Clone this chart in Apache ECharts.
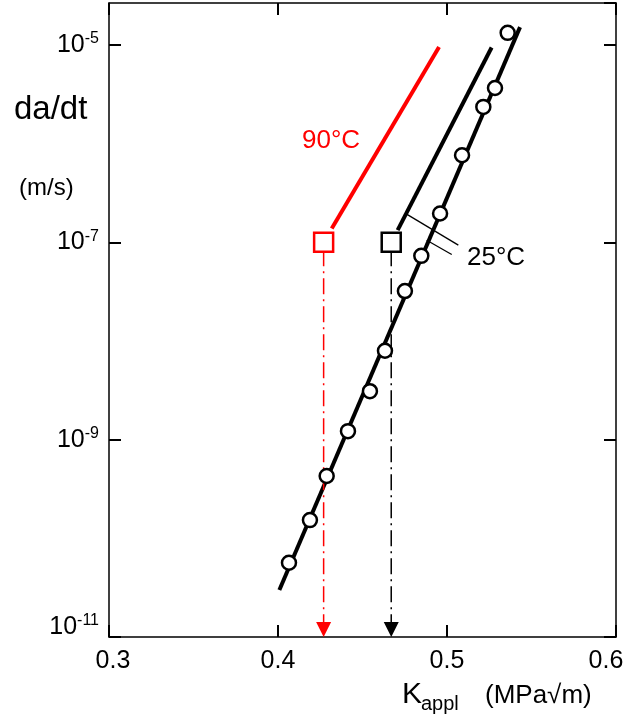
<!DOCTYPE html>
<html>
<head>
<meta charset="utf-8">
<script src="https://cdn.jsdelivr.net/npm/echarts@6/dist/echarts.min.js"></script>
<style>
  html, body { margin: 0; padding: 0; background: #fff; }
  #main { width: 628px; height: 726px; }
</style>
</head>
<body>
<div id="main"></div>
<script>
// K_appl (MPa√m) and da/dt (m/s)
var k25 = [0.4065, 0.4189, 0.4288, 0.4414, 0.4544, 0.4633, 0.4751, 0.4848, 0.4959, 0.5089, 0.5215, 0.5284, 0.5359];
var v25 = [5.66e-11, 1.53e-10, 4.28e-10, 1.22e-9, 3.10e-9, 7.96e-9, 3.21e-8, 7.30e-8, 1.96e-7, 7.64e-7, 2.36e-6, 3.67e-6, 1.33e-5];

// fitted line through the 25°C points
var kFit = [0.4008, 0.5432];
var vFit = [2.99e-11, 1.52e-5];

// upper branches starting at the threshold squares
var kUp25 = [0.4708, 0.5264];
var vUp25 = [1.33e-7, 9.44e-6];
var kUp90 = [0.4318, 0.4953];
var vUp90 = [1.38e-7, 9.57e-6];

// thresholds (squares) and drop lines down to the axis
var kTh = [0.427, 0.467];
var vTh = [1e-7, 1e-7];
var vDrop = [8.3e-8, 1.41e-11];
var thColors = ['#ff0000', '#000000'];

// leader lines for the "25°C" label
var kLead1 = [0.4761, 0.5067];
var vLead1 = [1.93e-7, 9.38e-8];
var kLead2 = [0.4880, 0.5028];
var vLead2 = [1.05e-7, 7.53e-8];

var xTicks = [0.3, 0.4, 0.5, 0.6];
var yExpTicks = [-11, -9, -7, -5];

var FONT = 'Liberation Sans, Arial, sans-serif';

function lg(v) { return Math.log10(v); }
function pairs(xs, ys) {
    return xs.map(function (x, i) { return [x, lg(ys[i])]; });
}

var myChart = echarts.init(document.getElementById('main'));

var axisLine = { show: true, lineStyle: { color: '#000', width: 1.5 } };
var tick = { show: true, inside: true, length: 12, lineStyle: { color: '#000', width: 2 } };

var supRich = {
    b: { fontSize: 25, lineHeight: 28, color: '#000', fontFamily: FONT },
    s: { fontSize: 16, lineHeight: 16, color: '#000', fontFamily: FONT, verticalAlign: 'top' },
    g: { fontSize: 10, lineHeight: 20 }
};

function lineSeries(data, color, width, type) {
    return {
        type: 'line',
        data: data,
        showSymbol: false,
        symbol: 'none',
        clip: false,
        silent: true,
        lineStyle: { color: color, width: width, type: type || 'solid', cap: 'butt', opacity: 1 },
        z: 3
    };
}

var series = [
    lineSeries(pairs(kFit, vFit), '#000', 4),
    lineSeries(pairs(kUp25, vUp25), '#000', 4),
    lineSeries(pairs(kUp90, vUp90), '#ff0000', 4),
    lineSeries(pairs(kLead1, vLead1), '#000', 1.3),
    lineSeries(pairs(kLead2, vLead2), '#000', 1.3)
];

kTh.forEach(function (k, i) {
    series.push(lineSeries([[k, lg(vDrop[0])], [k, lg(vDrop[1])]], thColors[i], 1.5, [16, 5, 2, 5]));
});

series.push({
    type: 'scatter',
    data: pairs(k25, v25),
    symbol: 'circle',
    symbolSize: 14,
    itemStyle: { color: '#fff', borderColor: '#000', borderWidth: 2.5, opacity: 1 },
    z: 5
});

series.push({
    type: 'scatter',
    data: kTh.map(function (k, i) {
        return { value: [k, lg(vTh[i])], itemStyle: { borderColor: thColors[i] } };
    }),
    symbol: 'rect',
    symbolSize: 19,
    itemStyle: { color: '#fff', borderWidth: 2.5, opacity: 1 },
    z: 6
});

series.push({
    type: 'scatter',
    data: kTh.map(function (k, i) {
        return { value: [k, -11], itemStyle: { color: thColors[i] } };
    }),
    symbol: 'triangle',
    symbolSize: [15, 15],
    symbolRotate: 180,
    symbolOffset: [0, -7.5],
    itemStyle: { opacity: 1 },
    clip: false,
    z: 6
});

option = {
    backgroundColor: '#fff',
    animation: false,
    grid: { left: 109, right: 12, top: 3, bottom: 89, outerBoundsMode: 'none' },
    xAxis: [{
        type: 'value',
        min: xTicks[0],
        max: xTicks[xTicks.length - 1],
        interval: 0.1,
        position: 'bottom',
        axisLine: axisLine,
        axisTick: tick,
        splitLine: { show: false },
        axisLabel: {
            margin: 12,
            color: '#000',
            fontSize: 25,
            fontFamily: FONT,
            formatter: function (v) {
                var t = v.toFixed(1);
                if (t === '0.3') return '{l|' + t + '}';
                if (t === '0.6') return '{r|' + t + '}';
                return t;
            },
            rich: {
                l: { fontSize: 25, fontFamily: FONT, color: '#000', padding: [0, 0, 0, 8] },
                r: { fontSize: 25, fontFamily: FONT, color: '#000', padding: [0, 20, 0, 0] }
            }
        }
    }, {
        type: 'value',
        min: xTicks[0],
        max: xTicks[xTicks.length - 1],
        interval: 0.1,
        position: 'top',
        axisLine: axisLine,
        axisTick: tick,
        splitLine: { show: false },
        axisLabel: { show: false }
    }],
    yAxis: [{
        type: 'value',
        min: yExpTicks[0],
        max: -4.574,
        interval: 2,
        position: 'left',
        axisLine: axisLine,
        axisTick: tick,
        splitLine: { show: false },
        axisLabel: {
            margin: 10,
            showMaxLabel: false,
            formatter: function (v) {
                var e = Math.round(v);
                if (e === -11) return '{b|10}{s|' + e + '}\n{g| }';
                return '{b|10}{s|' + e + '}';
            },
            rich: supRich
        }
    }, {
        type: 'value',
        min: yExpTicks[0],
        max: -4.574,
        interval: 2,
        position: 'right',
        axisLine: axisLine,
        axisTick: tick,
        splitLine: { show: false },
        axisLabel: { show: false }
    }],
    graphic: [
        { type: 'text', left: 14, top: 93, style: { text: 'da/dt', fontSize: 33, fontFamily: FONT, fill: '#000' } },
        { type: 'text', left: 19, top: 176, style: { text: '(m/s)', fontSize: 24, fontFamily: FONT, fill: '#000' } },
        { type: 'text', left: 302, top: 128, style: { text: '90°C', fontSize: 26, fontFamily: FONT, fill: '#ff0000' } },
        { type: 'text', left: 467, top: 245, style: { text: '25°C', fontSize: 26, fontFamily: FONT, fill: '#000' } },
        { type: 'text', left: 402, top: 680, style: { text: 'K', fontSize: 30, fontFamily: FONT, fill: '#000' } },
        { type: 'text', left: 421, top: 694, style: { text: 'appl', fontSize: 20, fontFamily: FONT, fill: '#000' } },
        { type: 'text', left: 485, top: 683, style: { text: '(MPa√m)', fontSize: 26, fontFamily: FONT, fill: '#000' } }
    ],
    series: series
};

myChart.setOption(option);
</script>
</body>
</html>
